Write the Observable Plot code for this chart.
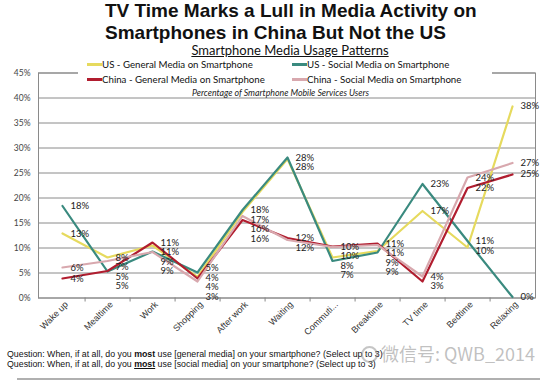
<!DOCTYPE html>
<html>
<head>
<meta charset="utf-8">
<script src="https://cdn.jsdelivr.net/npm/d3@7"></script>
<script src="https://cdn.jsdelivr.net/npm/@observablehq/plot@0.6"></script>
<style>
  html, body { margin: 0; padding: 0; background: #fff; }
  #page { position: relative; width: 550px; height: 381px; overflow: hidden; background: #fff; }
  #chart { position: absolute; left: 0; top: 0; }
  .abs { position: absolute; white-space: nowrap; }
  #title { left: 105px; top: 0px; font-family: "Liberation Sans", Arial, sans-serif; font-weight: bold; font-size: 19px; line-height: 22px; color: #111; }
  #subtitle { left: 0; width: 580px; text-align: center; top: 44px; font-family: Lato, sans-serif; font-size: 13px; line-height: 12px; color: #111; text-decoration: underline; }
  #legendbox { left: 78px; top: 58px; width: 414px; height: 38px; background: #fff; }
  .lg { font-family: Lato, sans-serif; font-size: 9.7px; line-height: 12px; color: #111; }
  .sw { position: absolute; height: 3px; }
  #note { font-family: Lato, sans-serif; font-style: italic; font-size: 8.8px; line-height: 9px; color: #222; }
  .q { left: 7px; font-family: "Liberation Sans", Arial, sans-serif; font-size: 8.8px; line-height: 10px; color: #111; }
  #hr { left: 17px; top: 378px; width: 523px; height: 2px; background: #b0b0b0; }
  #wm { left: 381px; top: 342px; font-family: "Noto Sans CJK SC", sans-serif; font-size: 18px; line-height: 22px; color: rgba(140,140,140,0.55); }
  #wmlogo { left: 361px; top: 346px; width: 13px; height: 13px; border: 2px solid rgba(140,140,140,0.5); border-radius: 50%; }
</style>
</head>
<body>
<div id="page">
  <div id="chart"></div>
  <div id="title" class="abs">TV Time Marks a Lull in Media Activity on<br>Smartphones in China But Not the US</div>
  <div id="legendbox" class="abs"></div>
  <div id="subtitle" class="abs">Smartphone Media Usage Patterns</div>
  <div id="legend"></div>
  <div id="note" class="abs" style="left:192px; top:88px;">Percentage of Smartphone Mobile Services Users</div>
  <div class="abs q" style="top:349px;">Question: When, if at all, do you <b>most</b> use [general media] on your smartphone? (Select up to 3)</div>
  <div class="abs q" style="top:359px;">Question: When, if at all, do you <b><u>most</u></b> use [social media] on your smartphone? (Select up to 3)</div>
  <div id="hr" class="abs"></div>
  <div id="wmlogo" class="abs"></div>
  <div id="wm" class="abs">微信号: QWB_2014</div>
</div>
<script>
// ---- data ----
const categories = ["Wake up", "Mealtime", "Work", "Shopping", "After work", "Waiting", "Commuti...", "Breaktime", "TV time", "Bedtime", "Relaxing"];
const seriesNames = ["US - General Media on Smartphone", "US - Social Media on Smartphone", "China - General Media on Smartphone", "China - Social Media on Smartphone"];
const usGeneral    = [12.9, 8.1, 10.5, 4.2, 17.2, 27.8, 8.1, 9.4, 17.4, 10.1, 38.3];
const usSocial     = [18.4, 5.3, 9.3, 5.1, 17.6, 28.1, 7.4, 9.1, 22.8, 11.4, 0.2];
const chinaGeneral = [3.9, 5.4, 11.1, 3.9, 15.6, 12.0, 10.3, 10.9, 3.3, 22.0, 24.7];
const chinaSocial  = [6.1, 7.4, 9.2, 3.3, 16.4, 11.6, 10.2, 10.6, 4.3, 24.1, 27.0];
const yTicks = [0, 5, 10, 15, 20, 25, 30, 35, 40, 45];

const colors = ["#e6da5e", "#3a8a7f", "#b11d2f", "#d8a8ae"];
const allSeries = [usGeneral, usSocial, chinaGeneral, chinaSocial];
const rows = [];
allSeries.forEach((vals, s) => vals.forEach((v, i) => rows.push({series: seriesNames[s], cat: categories[i], value: v})));

// label de-overlap: within each category, keep labels at least minGap (in %) apart
const minGap = 1.9;
const labelRows = [];
categories.forEach(c => {
  const g = rows.filter(r => r.cat === c).map(r => ({...r, ly: r.value})).sort((a, b) => b.value - a.value);
  for (let k = 1; k < g.length; k++) {
    if (g[k - 1].ly - g[k].ly < minGap) g[k].ly = g[k - 1].ly - minGap;
  }
  const low = g[g.length - 1].ly;
  if (low < 0.3) g.forEach(r => r.ly += (0.3 - low));
  labelRows.push(...g);
});

const W = 550, H = 381, mL = 38, mR = 15, mT = 72.5, mB = 83.5;
const step = (W - mL - mR) / categories.length;

const chart = Plot.plot({
  width: W, height: H,
  marginLeft: mL, marginRight: mR, marginTop: mT, marginBottom: mB,
  style: {fontFamily: "Lato, sans-serif", background: "transparent"},
  x: {type: "point", domain: categories, padding: 0.5, label: null},
  y: {domain: [0, 45], label: null},
  color: {domain: seriesNames, range: colors},
  marks: [
    Plot.gridY(yTicks, {stroke: "#8a8a8a", strokeOpacity: 1, strokeWidth: 1}),
    Plot.frame({stroke: "#8a8a8a", strokeWidth: 1}),
    Plot.ruleX(categories.slice(0, -1), {x: d => d, y1: 0, y2: -0.8, dx: step / 2, stroke: "#888"}),
    Plot.axisY(yTicks, {tickFormat: d => d + "%", tickSize: 0, tickPadding: 8, fontSize: 8.5, fill: "#444"}),
    Plot.axisX({tickRotate: -45, tickSize: 0, tickPadding: 5, dx: 4, fontSize: 9, fill: "#333", fontFamily: "Liberation Sans, Arial, sans-serif"}),
    Plot.line(rows, {x: "cat", y: "value", z: "series", stroke: "series", strokeWidth: 2.2}),
    Plot.text(labelRows, {x: "cat", y: "ly", text: d => Math.round(d.value) + "%", dx: 8, textAnchor: "start", fontSize: 9.5, fill: "#222"})
  ]
});
document.getElementById("chart").appendChild(chart);

// legend (HTML)
const legend = document.getElementById("legend");
const legendPos = [[87, 64], [292, 64], [87, 79], [292, 79]];
seriesNames.forEach((name, i) => {
  const [lx, ly] = legendPos[i];
  const sw = document.createElement("div");
  sw.className = "sw abs";
  sw.style.left = lx + "px"; sw.style.top = (ly - 1.5) + "px"; sw.style.width = "15px"; sw.style.background = colors[i];
  legend.appendChild(sw);
  const t = document.createElement("div");
  t.className = "lg abs";
  t.style.left = (lx + 15) + "px"; t.style.top = (ly - 6) + "px";
  t.textContent = name;
  legend.appendChild(t);
});
</script>
</body>
</html>
